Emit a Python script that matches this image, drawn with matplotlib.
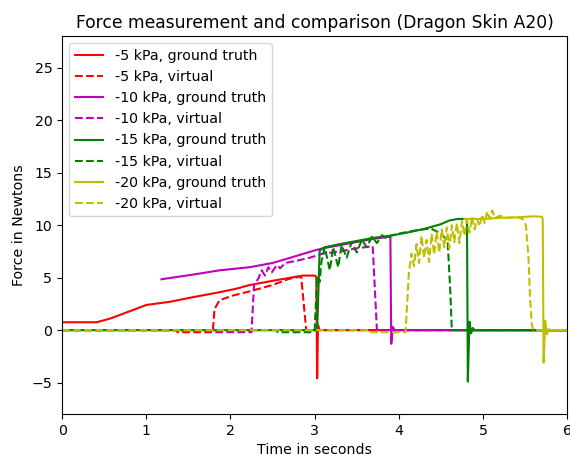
import matplotlib
matplotlib.use("Agg")
import matplotlib.pyplot as plt

# -5 kPa
red_gt_t = [0, 0.41, 0.57, 0.77, 1.0, 1.28, 1.56, 1.83, 2.07, 2.23, 2.5, 2.75, 2.86, 3.0, 3.02, 3.03, 3.04, 3.06, 6.0]
red_gt_f = [0.75, 0.75, 1.1, 1.7, 2.4, 2.7, 3.15, 3.55, 3.95, 4.3, 4.7, 5.05, 5.2, 5.2, 5.1, -4.6, 0.5, 0.0, 0.0]
red_v_t = [0, 1.36, 1.37, 1.79, 1.81, 1.87, 2.03, 2.23, 2.5, 2.7, 2.84, 2.9, 6.0]
red_v_f = [0.0, 0.0, -0.2, -0.2, 2.0, 2.85, 3.3, 3.7, 4.3, 4.9, 5.1, 0.0, 0.0]

# -10 kPa
mag_gt_t = [1.18, 1.56, 1.87, 2.23, 2.5, 2.67, 3.0, 3.1, 3.3, 3.5, 3.7, 3.88, 3.9, 3.91, 3.93, 3.95, 6.0]
mag_gt_f = [4.85, 5.3, 5.7, 6.0, 6.4, 6.8, 7.6, 7.8, 8.1, 8.4, 8.7, 8.9, 8.9, -1.3, 0.3, 0.0, 0.0]
mag_v_t = [0, 1.8, 1.81, 2.25, 2.28, 2.33, 2.37, 2.41, 2.45, 2.49, 2.55, 2.59, 2.65, 2.78, 2.94, 3.1,
           3.3, 3.5, 3.69, 3.74, 6.0]
mag_v_f = [0.0, 0.0, -0.2, -0.2, 4.3, 4.9, 5.7, 5.2, 6.0, 5.5, 6.2, 5.9, 6.4, 6.6, 6.9, 7.3,
           7.5, 7.8, 8.0, 0.0, 0.0]

# -15 kPa
green_gt_t = [0, 3.03, 3.06, 3.12, 3.3, 3.5, 3.7, 3.9, 4.1, 4.3, 4.5, 4.6, 4.7, 4.79, 4.81, 4.82,
              4.84, 4.86, 4.88, 4.9, 6.0]
green_gt_f = [0.0, 0.0, 7.6, 7.9, 8.2, 8.5, 8.8, 9.0, 9.3, 9.65, 10.1, 10.45, 10.6, 10.6, 10.5, -4.9,
              0.8, -0.3, 0.2, 0.0, 0.0]
green_v_t = [0, 2.55, 2.56, 2.98, 3.0, 3.03, 3.06, 3.08, 3.12, 3.18, 3.22, 3.28, 3.32, 3.38, 3.44,
             3.5, 3.56, 3.62, 3.68, 3.74, 3.8, 3.86, 3.9, 4.0, 4.2, 4.38, 4.5, 4.58, 4.61, 4.63, 6.0]
green_v_f = [0.0, 0.0, -0.2, -0.2, 0.0, 5.1, 4.6, 6.5, 7.9, 5.7, 7.9, 6.0, 8.1, 6.9, 8.4,
             7.4, 8.6, 7.9, 8.9, 8.3, 9.05, 8.7, 9.0, 9.2, 9.5, 9.7, 9.2, 8.5, 4.0, 0.0, 0.0]

# -20 kPa
yel_gt_t = [4.78, 5.0, 5.2, 5.4, 5.6, 5.7, 5.71, 5.72, 5.74, 5.76, 5.78, 5.8, 6.0]
yel_gt_f = [10.6, 10.6, 10.7, 10.75, 10.85, 10.8, 10.6, -3.1, 0.9, -0.4, 0.1, 0.0, 0.0]
yel_v_t = [0, 3.64, 3.65, 4.08, 4.12, 4.15, 4.18, 4.21, 4.24, 4.27, 4.30, 4.33, 4.36, 4.39, 4.42,
           4.45, 4.48, 4.51, 4.54, 4.57, 4.60, 4.63, 4.66, 4.69, 4.72, 4.75, 4.78, 4.81, 4.84,
           4.87, 4.90, 4.93, 4.96, 4.99, 5.02, 5.05, 5.08, 5.11, 5.14, 5.2, 5.3, 5.4, 5.47,
           5.51, 5.54, 5.56, 5.58, 5.6, 6.0]
yel_v_f = [0.0, 0.0, -0.2, -0.2, 5.5, 7.3, 6.1, 8.2, 6.4, 9.0, 6.9, 8.6, 6.5, 9.2, 7.2,
           9.4, 7.4, 9.6, 7.9, 9.8, 7.8, 10.0, 8.4, 10.2, 8.3, 10.4, 9.0, 10.5, 9.3,
           10.8, 9.6, 10.6, 9.9, 11.0, 10.2, 11.3, 10.6, 11.4, 10.7, 10.9, 10.7, 10.8, 10.6,
           10.0, 7.0, 3.0, 0.5, 0.0, 0.0]

plt.rcParams['font.size'] = 10.2

fig, ax = plt.subplots(figsize=(5.7, 4.55), dpi=100)
fig.subplots_adjust(left=0.109, right=0.995, bottom=0.09, top=0.92)

ax.plot(red_gt_t, red_gt_f, 'r-', label='-5 kPa, ground truth')
ax.plot(red_v_t, red_v_f, 'r--', label='-5 kPa, virtual')
ax.plot(mag_gt_t, mag_gt_f, 'm-', label='-10 kPa, ground truth')
ax.plot(mag_v_t, mag_v_f, 'm--', label='-10 kPa, virtual')
ax.plot(green_gt_t, green_gt_f, 'g-', label='-15 kPa, ground truth')
ax.plot(green_v_t, green_v_f, 'g--', label='-15 kPa, virtual')
ax.plot(yel_gt_t, yel_gt_f, 'y-', label='-20 kPa, ground truth')
ax.plot(yel_v_t, yel_v_f, 'y--', label='-20 kPa, virtual')

ax.set_xlim(0, 6)
ax.set_ylim(-8, 28)
ax.set_title('Force measurement and comparison (Dragon Skin A20)', fontsize=12.3)
ax.set_xlabel('Time in seconds')
ax.set_ylabel('Force in Newtons')
ax.legend(loc='upper left')

plt.savefig('out.png')
